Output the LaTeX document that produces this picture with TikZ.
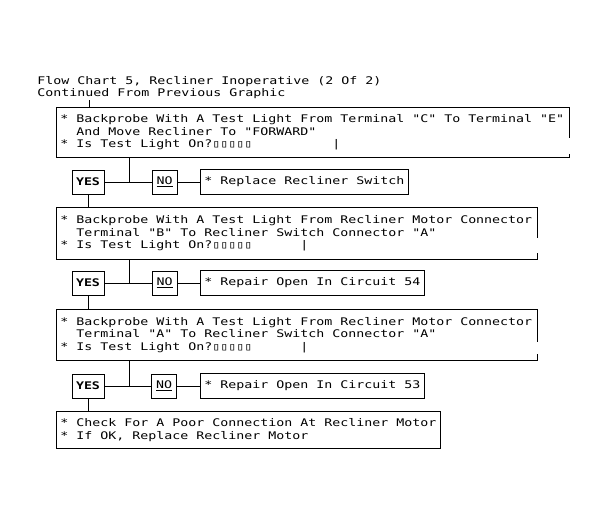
\documentclass[tikz,border=0pt]{standalone}
\usepackage{fontspec}
\usepackage{tikz}
\usetikzlibrary{positioning,calc}
\newfontfamily\chartfont[FakeStretch=1.265]{DejaVu Sans Mono}
\tikzset{
  chart/.style={font=\chartfont\fontsize{10.5}{12.5}\selectfont, line width=0.9pt},
  qbox/.style={rectangle, align=flush left, inner xsep=4pt, inner ysep=0pt, anchor=north west},
  abox/.style={rectangle, draw, align=flush left, inner xsep=4pt, inner ysep=0pt,
    minimum height=25pt, anchor=west},
  yesbox/.style={rectangle, draw, minimum width=32pt, minimum height=24pt,
    inner sep=0pt, font=\chartfont\bfseries\fontsize{10.5}{12.5}\selectfont},
  nobox/.style={rectangle, draw, minimum width=25pt, minimum height=24pt, inner sep=0pt},
  ttl/.style={anchor=base west, inner sep=0pt},
}

\begin{document}
\begin{tikzpicture}[x=1pt, y=-1pt, chart]
  \useasboundingbox (0,0) rectangle (607,525);
  \node[ttl] (title) at (37,84) {Flow Chart 5, Recliner Inoperative (2 Of 2)};
  \node[ttl] (sub) at (37,96.5) {Continued From Previous Graphic};
  \coordinate (top) at (89,100);
  \node[qbox, text width=505pt, minimum height=50pt] (b1) at (56,107)
    {{*} Backprobe With A Test Light From Terminal "C" To Terminal "E"\\
     ~~And Move Recliner To "FORWARD"\\
     {*} Is Test Light On?▯▯▯▯▯~~~~~~~~~~|};
  \node[yesbox] (yes1) at (88,182) {YES};
  \node[nobox] (no1) at (164.5,182) {\underline{NO}};
  \node[abox] (r1) at (200,182) {* Replace Recliner Switch};
  \coordinate (j1) at (129,182);
  \node[qbox, text width=473pt, minimum height=52pt] (b2) at (56,207)
    {{*} Backprobe With A Test Light From Recliner Motor Connector\\
     ~~Terminal "B" To Recliner Switch Connector "A"\\
     {*} Is Test Light On?▯▯▯▯▯~~~~~~|};
  \node[yesbox] (yes2) at (88,283) {YES};
  \node[nobox] (no2) at (164.5,283) {\underline{NO}};
  \node[abox] (r2) at (200,283) {* Repair Open In Circuit 54};
  \coordinate (j2) at (129,283);
  \node[qbox, text width=473pt, minimum height=51pt] (b3) at (56,309)
    {{*} Backprobe With A Test Light From Recliner Motor Connector\\
     ~~Terminal "A" To Recliner Switch Connector "A"\\
     {*} Is Test Light On?▯▯▯▯▯~~~~~~|};
  \node[yesbox] (yes3) at (88,386) {YES};
  \node[nobox] (no3) at (164,386) {\underline{NO}};
  \node[abox] (r3) at (200,386) {* Repair Open In Circuit 53};
  \coordinate (j3) at (129,386);
  \node[qbox, draw, text width=376pt, minimum height=37pt] (b4) at (56,411)
    {{*} Check For A Poor Connection At Recliner Motor\\
     {*} If OK, Replace Recliner Motor};
  \draw (b1.north east) -- (b1.north west) -- (b1.south west) -- (b1.south east) -- ++(0,-4);
  \draw (b1.north east) -- ++(0,31);
  \draw (b2.north east) -- (b2.north west) -- (b2.south west) -- (b2.south east) -- ++(0,-7);
  \draw (b2.north east) -- ++(0,31);
  \draw (b3.north east) -- (b3.north west) -- (b3.south west) -- (b3.south east) -- ++(0,-7);
  \draw (b3.north east) -- ++(0,33);
  \draw (top) -- (top |- b1.north);
  \draw (b1.south -| j1) -- (j1);
  \draw (yes1) -- (no1);
  \draw (no1) -- (r1);
  \draw (yes1) -- (yes1 |- b2.north);
  \draw (b2.south -| j2) -- (j2);
  \draw (yes2) -- (no2);
  \draw (no2) -- (r2);
  \draw (yes2) -- (yes2 |- b3.north);
  \draw (b3.south -| j3) -- (j3);
  \draw (yes3) -- (no3);
  \draw (no3) -- (r3);
  \draw (yes3) -- (yes3 |- b4.north);
\end{tikzpicture}
\end{document}
